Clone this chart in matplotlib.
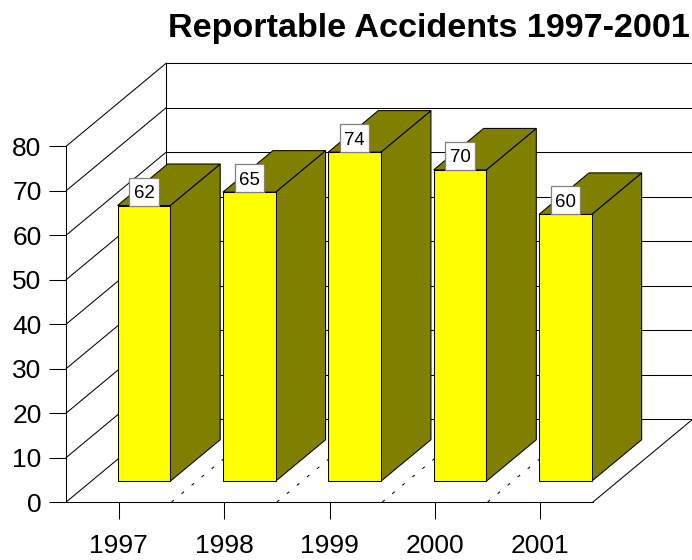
import matplotlib
matplotlib.use('Agg')
import matplotlib.pyplot as plt
from matplotlib.patches import Polygon, Rectangle

# Chart data
years = ['1997', '1998', '1999', '2000', '2001']
accidents = [62, 65, 74, 70, 60]
y_ticks = [0, 10, 20, 30, 40, 50, 60, 70, 80]

W, H = 692, 560
plt.rcParams['font.family'] = ['Liberation Sans', 'DejaVu Sans']

fig = plt.figure(figsize=(W / 100, H / 100), dpi=100)

# Front plane of the fake 3D box, placed in pixels
left, right, bottom, top = 66.2, 593.0, 502.0, 146.2
ax = fig.add_axes([left / W, 1 - bottom / H, (right - left) / W, (bottom - top) / H])
ax.set_xlim(0, len(years))
ax.set_ylim(0, 80)

# Pixel sizes in data units
px_x = len(years) / (right - left)
px_y = 80 / (bottom - top)

# Depth shift of the box in data units
depth_x = 100 * px_x
depth_y = 83 * px_y


def shift(x, y, d):
    return x + d * depth_x, y + d * depth_y


line_w = 0.75

# Back wall and left wall grid
for v in y_ticks:
    x0, y0 = shift(0, v, 1)
    x1, y1 = shift(len(years), v, 1)
    ax.plot([x0, x1], [y0, y1], color='black', lw=line_w, clip_on=False, zorder=1)
    ax.plot([0, x0], [v, y0], color='black', lw=line_w, clip_on=False, zorder=1)
x0, y0 = shift(0, 0, 1)
x1, y1 = shift(0, 80, 1)
ax.plot([x0, x1], [y0, y1], color='black', lw=line_w, clip_on=False, zorder=1)

# Floor edge on the right
x1, y1 = shift(len(years), 0, 1)
ax.plot([len(years), x1], [0, y1], color='black', lw=line_w, clip_on=False, zorder=1)

# Dotted floor lines between categories
for i in range(1, len(years)):
    x1, y1 = shift(i, 0, 1)
    ax.plot([i, x1], [0, y1], color='black', lw=line_w, dashes=(3, 9.5), clip_on=False, zorder=1)

# Bars
bar_w = 0.5
for i, v in enumerate(accidents):
    xa = i + 0.25
    xb = xa + bar_w
    front = [shift(xa, 0, 0.25), shift(xb, 0, 0.25), shift(xb, v, 0.25), shift(xa, v, 0.25)]
    side = [shift(xb, 0, 0.25), shift(xb, 0, 0.75), shift(xb, v, 0.75), shift(xb, v, 0.25)]
    cap = [shift(xa, v, 0.25), shift(xb, v, 0.25), shift(xb, v, 0.75), shift(xa, v, 0.75)]
    z = 2 + i
    for pts, col in [(side, '#808000'), (cap, '#808000'), (front, '#FFFF00')]:
        ax.add_patch(Polygon(pts, closed=True, facecolor=col, edgecolor='black',
                             lw=line_w, clip_on=False, zorder=z))

# Value labels sitting on the front top edge
box_w = 29.4 * px_x
box_h = 28 * px_y
for i, v in enumerate(accidents):
    x, y = shift(i + 0.5, v, 0.25)
    ax.add_patch(Rectangle((x - box_w / 2, y), box_w, box_h, facecolor='white',
                           edgecolor='#808080', lw=0.9, clip_on=False, zorder=20))
    ax.text(x, y + box_h / 2, str(v), ha='center', va='center_baseline',
            fontsize=13.4, zorder=21)

# Axes
for s in ['top', 'right']:
    ax.spines[s].set_visible(False)
for s in ['left', 'bottom']:
    ax.spines[s].set_linewidth(line_w)
ax.patch.set_visible(False)
ax.set_xticks([i + 0.5 for i in range(len(years))])
ax.set_xticklabels(years)
ax.set_yticks(y_ticks)
ax.tick_params(axis='x', length=12.2, width=line_w, labelsize=19, pad=11)
ax.tick_params(axis='y', length=12.2, width=line_w, labelsize=19, pad=5.5)

fig.text(167.5 / W, 1 - 36.5 / H, 'Reportable Accidents 1997-2001', fontsize=24.6,
         fontweight='bold', ha='left', va='baseline')

fig.savefig('out.png', dpi=100)
